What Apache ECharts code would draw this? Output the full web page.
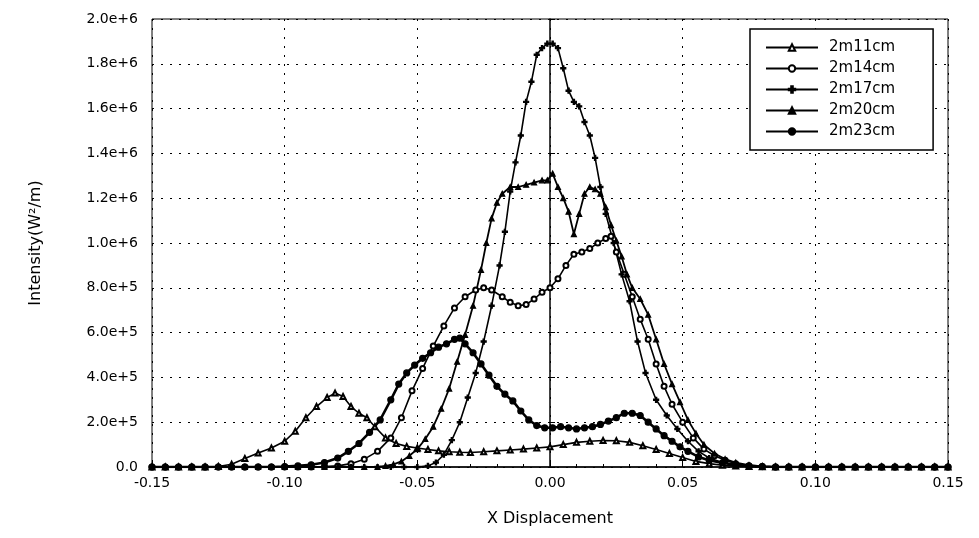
<!DOCTYPE html>
<html>
<head>
<meta charset="utf-8">
<script src="https://cdn.jsdelivr.net/npm/echarts@6/dist/echarts.min.js"></script>
<style>
  html, body { margin: 0; padding: 0; background: #fff; }
  #chart { width: 979px; height: 538px; }
</style>
</head>
<body>
<div id="chart"></div>
<script>
// intensity profiles, [x displacement, intensity]
const names = ["2m11cm", "2m14cm", "2m17cm", "2m20cm", "2m23cm"];

const s11 = [[-0.15,0],[-0.145,0],[-0.14,0],[-0.135,0],[-0.13,0],[-0.125,0.02e5],[-0.12,0.12e5],[-0.115,0.38e5],[-0.11,0.62e5],[-0.105,0.85e5],[-0.1,1.15e5],[-0.096,1.6e5],[-0.092,2.2e5],[-0.088,2.7e5],[-0.084,3.1e5],[-0.081,3.3e5],[-0.078,3.15e5],[-0.075,2.7e5],[-0.072,2.4e5],[-0.069,2.2e5],[-0.066,1.8e5],[-0.062,1.3e5],[-0.058,1.05e5],[-0.054,0.92e5],[-0.05,0.85e5],[-0.046,0.78e5],[-0.042,0.72e5],[-0.038,0.68e5],[-0.034,0.66e5],[-0.03,0.65e5],[-0.025,0.68e5],[-0.02,0.72e5],[-0.015,0.76e5],[-0.01,0.8e5],[-0.005,0.85e5],[0,0.9e5],[0.005,1.0e5],[0.01,1.1e5],[0.015,1.15e5],[0.02,1.18e5],[0.025,1.17e5],[0.03,1.1e5],[0.035,0.95e5],[0.04,0.78e5],[0.045,0.6e5],[0.05,0.42e5],[0.055,0.25e5],[0.06,0.15e5],[0.065,0.08e5],[0.07,0.04e5],[0.075,0.02e5],[0.08,0.01e5],[0.085,0],[0.09,0],[0.095,0],[0.1,0],[0.105,0],[0.11,0],[0.115,0],[0.12,0],[0.125,0],[0.13,0],[0.135,0],[0.14,0],[0.145,0],[0.15,0]];

const s14 = [[-0.15,0],[-0.145,0],[-0.14,0],[-0.135,0],[-0.13,0],[-0.125,0],[-0.12,0],[-0.115,0],[-0.11,0],[-0.105,0],[-0.1,0],[-0.095,0],[-0.09,0],[-0.085,0.02e5],[-0.08,0.05e5],[-0.075,0.15e5],[-0.07,0.35e5],[-0.065,0.7e5],[-0.06,1.3e5],[-0.056,2.2e5],[-0.052,3.4e5],[-0.048,4.4e5],[-0.044,5.4e5],[-0.04,6.3e5],[-0.036,7.1e5],[-0.032,7.6e5],[-0.028,7.9e5],[-0.025,8.0e5],[-0.022,7.9e5],[-0.018,7.6e5],[-0.015,7.35e5],[-0.012,7.2e5],[-0.009,7.25e5],[-0.006,7.5e5],[-0.003,7.8e5],[0,8.0e5],[0.003,8.4e5],[0.006,9.0e5],[0.009,9.5e5],[0.012,9.6e5],[0.015,9.75e5],[0.018,10.0e5],[0.021,10.2e5],[0.023,10.3e5],[0.025,9.6e5],[0.028,8.6e5],[0.031,7.6e5],[0.034,6.6e5],[0.037,5.7e5],[0.04,4.6e5],[0.043,3.6e5],[0.046,2.8e5],[0.05,2.0e5],[0.054,1.3e5],[0.058,0.8e5],[0.062,0.5e5],[0.066,0.3e5],[0.07,0.15e5],[0.075,0.05e5],[0.08,0.02e5],[0.085,0],[0.09,0],[0.095,0],[0.1,0],[0.105,0],[0.11,0],[0.115,0],[0.12,0],[0.125,0],[0.13,0],[0.135,0],[0.14,0],[0.145,0],[0.15,0]];

const s17 = [[-0.15,0],[-0.145,0],[-0.14,0],[-0.135,0],[-0.13,0],[-0.125,0],[-0.12,0],[-0.115,0],[-0.11,0],[-0.105,0],[-0.1,0],[-0.095,0],[-0.09,0],[-0.085,0],[-0.08,0],[-0.075,0],[-0.07,0],[-0.065,0],[-0.06,0],[-0.055,0],[-0.05,0],[-0.046,0.05e5],[-0.043,0.2e5],[-0.04,0.55e5],[-0.037,1.2e5],[-0.034,2.0e5],[-0.031,3.1e5],[-0.028,4.2e5],[-0.025,5.6e5],[-0.022,7.2e5],[-0.019,9.0e5],[-0.017,10.5e5],[-0.015,12.3e5],[-0.013,13.6e5],[-0.011,14.8e5],[-0.009,16.3e5],[-0.007,17.2e5],[-0.005,18.4e5],[-0.003,18.7e5],[-0.001,18.9e5],[0.001,18.9e5],[0.003,18.7e5],[0.005,17.8e5],[0.007,16.8e5],[0.009,16.3e5],[0.011,16.1e5],[0.013,15.4e5],[0.015,14.8e5],[0.017,13.8e5],[0.019,12.5e5],[0.021,11.3e5],[0.024,10.0e5],[0.027,8.6e5],[0.03,7.4e5],[0.033,5.6e5],[0.036,4.2e5],[0.04,3.0e5],[0.044,2.3e5],[0.048,1.7e5],[0.052,1.15e5],[0.056,0.7e5],[0.06,0.4e5],[0.065,0.2e5],[0.07,0.1e5],[0.075,0.03e5],[0.08,0],[0.085,0],[0.09,0],[0.095,0],[0.1,0],[0.105,0],[0.11,0],[0.115,0],[0.12,0],[0.125,0],[0.13,0],[0.135,0],[0.14,0],[0.145,0],[0.15,0]];

const s20 = [[-0.15,0],[-0.145,0],[-0.14,0],[-0.135,0],[-0.13,0],[-0.125,0],[-0.12,0],[-0.115,0],[-0.11,0],[-0.105,0],[-0.1,0],[-0.095,0],[-0.09,0],[-0.085,0],[-0.08,0],[-0.075,0],[-0.07,0],[-0.065,0],[-0.062,0.05e5],[-0.059,0.12e5],[-0.056,0.25e5],[-0.053,0.5e5],[-0.05,0.8e5],[-0.047,1.25e5],[-0.044,1.8e5],[-0.041,2.6e5],[-0.038,3.5e5],[-0.035,4.7e5],[-0.032,5.9e5],[-0.029,7.2e5],[-0.026,8.8e5],[-0.024,10.0e5],[-0.022,11.1e5],[-0.02,11.8e5],[-0.018,12.2e5],[-0.015,12.5e5],[-0.012,12.5e5],[-0.009,12.6e5],[-0.006,12.7e5],[-0.003,12.8e5],[-0.001,12.8e5],[0.001,13.1e5],[0.003,12.5e5],[0.005,12.0e5],[0.007,11.4e5],[0.009,10.4e5],[0.011,11.3e5],[0.013,12.2e5],[0.015,12.5e5],[0.017,12.4e5],[0.019,12.2e5],[0.021,11.6e5],[0.023,10.8e5],[0.025,10.1e5],[0.027,9.4e5],[0.029,8.6e5],[0.031,8.0e5],[0.034,7.5e5],[0.037,6.8e5],[0.04,5.7e5],[0.043,4.6e5],[0.046,3.7e5],[0.049,2.9e5],[0.052,2.1e5],[0.055,1.5e5],[0.058,1.0e5],[0.062,0.6e5],[0.066,0.35e5],[0.07,0.2e5],[0.075,0.08e5],[0.08,0.03e5],[0.085,0],[0.09,0],[0.095,0],[0.1,0],[0.105,0],[0.11,0],[0.115,0],[0.12,0],[0.125,0],[0.13,0],[0.135,0],[0.14,0],[0.145,0],[0.15,0]];

const s23 = [[-0.15,0],[-0.145,0],[-0.14,0],[-0.135,0],[-0.13,0],[-0.125,0],[-0.12,0],[-0.115,0],[-0.11,0],[-0.105,0],[-0.1,0.02e5],[-0.095,0.05e5],[-0.09,0.1e5],[-0.085,0.2e5],[-0.08,0.4e5],[-0.076,0.7e5],[-0.072,1.05e5],[-0.068,1.55e5],[-0.064,2.1e5],[-0.06,3.0e5],[-0.057,3.7e5],[-0.054,4.2e5],[-0.051,4.55e5],[-0.048,4.85e5],[-0.045,5.1e5],[-0.042,5.35e5],[-0.039,5.5e5],[-0.036,5.7e5],[-0.034,5.75e5],[-0.032,5.5e5],[-0.029,5.1e5],[-0.026,4.6e5],[-0.023,4.1e5],[-0.02,3.6e5],[-0.017,3.25e5],[-0.014,2.95e5],[-0.011,2.5e5],[-0.008,2.1e5],[-0.005,1.85e5],[-0.002,1.75e5],[0.001,1.75e5],[0.004,1.8e5],[0.007,1.75e5],[0.01,1.7e5],[0.013,1.75e5],[0.016,1.8e5],[0.019,1.9e5],[0.022,2.05e5],[0.025,2.2e5],[0.028,2.4e5],[0.031,2.4e5],[0.034,2.3e5],[0.037,2.0e5],[0.04,1.7e5],[0.043,1.4e5],[0.046,1.15e5],[0.049,0.9e5],[0.052,0.7e5],[0.056,0.45e5],[0.06,0.3e5],[0.065,0.18e5],[0.07,0.1e5],[0.075,0.05e5],[0.08,0.02e5],[0.085,0],[0.09,0],[0.095,0],[0.1,0],[0.105,0],[0.11,0],[0.115,0],[0.12,0],[0.125,0],[0.13,0],[0.135,0],[0.14,0],[0.145,0],[0.15,0]];

const seriesData = [s11, s14, s17, s20, s23];
const markers = [
  "emptyTriangle",
  "emptyCircle",
  "path://M3,0H5V3H8V5H5V8H3V5H0V3H3Z",
  "triangle",
  "circle",
];
const markerSize = [5, 5, 5, 5, 6];
const lineWidth = [1.6, 1.6, 1.6, 1.8, 2.6];

const FONT = "DejaVu Sans";
const chart = echarts.init(document.getElementById("chart"));

const option = {
  animation: false,
  backgroundColor: "#fff",
  textStyle: { fontFamily: FONT, color: "#000" },
  grid: {
    left: 152, right: 31, top: 19, bottom: 71,
    show: true, borderColor: "#000", borderWidth: 1,
  },
  legend: {
    orient: "vertical",
    left: 750, top: 29,
    padding: [11, 38, 11, 15],
    backgroundColor: "#fff",
    borderColor: "#000",
    borderWidth: 1.5,
    itemWidth: 52,
    itemHeight: 8,
    itemGap: 6,
    data: names,
    textStyle: { fontFamily: FONT, fontSize: 15, color: "#000", padding: [0, 0, 0, 6] },
  },
  xAxis: {
    type: "value",
    min: -0.15, max: 0.15, interval: 0.05,
    name: "X Displacement",
    nameLocation: "middle",
    nameGap: 44,
    nameTextStyle: { fontFamily: FONT, fontSize: 16, color: "#000" },
    axisLine: { lineStyle: { color: "#000", width: 1.5 } },
    axisTick: { inside: true, length: 5, lineStyle: { color: "#000" } },
    minorTick: { show: true, splitNumber: 5, length: 3, lineStyle: { color: "#000" } },
    axisLabel: {
      fontFamily: FONT, fontSize: 14, color: "#000", margin: 9,
      formatter: (v) => v.toFixed(2),
    },
    splitLine: { show: true, lineStyle: { color: "#000", type: [2, 7], width: 1 } },
  },
  yAxis: {
    type: "value",
    min: 0, max: 2e6, interval: 2e5,
    name: "Intensity(W²/m)",
    nameLocation: "middle",
    nameGap: 108,
    nameRotate: 90,
    nameTextStyle: { fontFamily: FONT, fontSize: 16, color: "#000" },
    axisLine: { show: true, lineStyle: { color: "#000", width: 1.5 } },
    axisTick: { show: true, inside: true, length: 5, lineStyle: { color: "#000" } },
    axisLabel: {
      fontFamily: FONT, fontSize: 14, color: "#000", margin: 14,
      formatter: (v) => (v === 0 ? "0.0" : v.toExponential(1)),
    },
    splitLine: { show: true, lineStyle: { color: "#000", type: [2, 7], width: 1 } },
  },
  series: names.map((n, i) => ({
    name: n,
    type: "line",
    data: seriesData[i],
    symbol: markers[i],
    symbolSize: markerSize[i],
    showAllSymbol: true,
    color: "#000",
    lineStyle: { color: "#000", width: lineWidth[i] },
    itemStyle: { color: "#000", borderColor: "#000", borderWidth: 1.2 },
  })),
};

chart.setOption(option);
</script>
</body>
</html>
